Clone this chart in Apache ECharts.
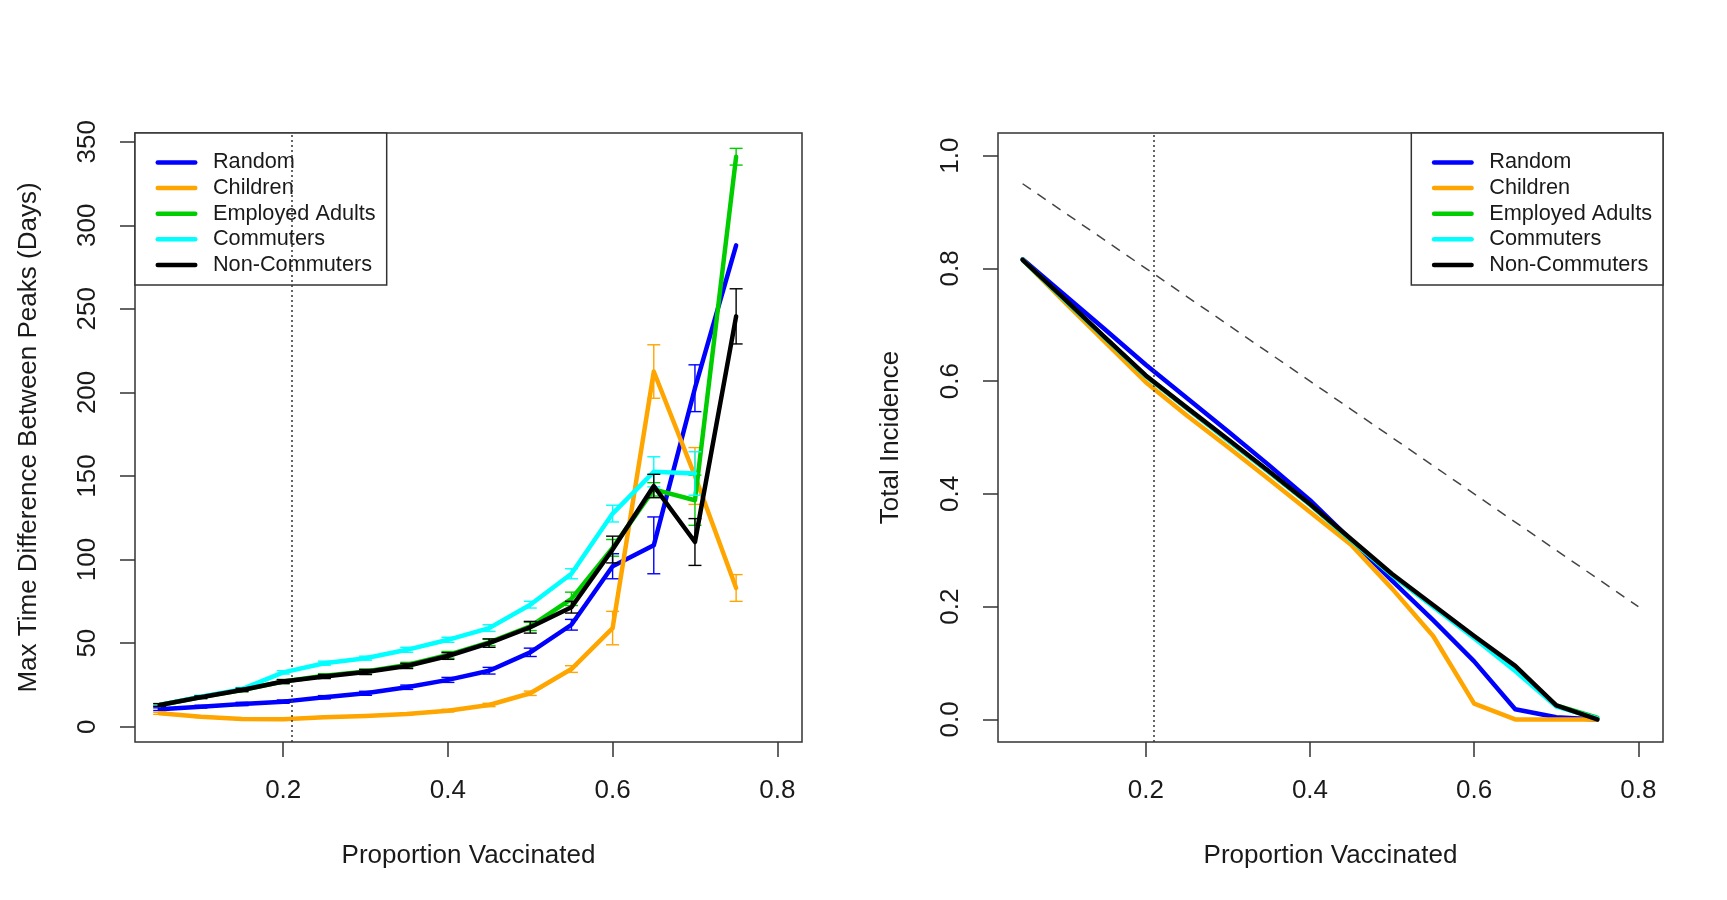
<!DOCTYPE html>
<html>
<head>
<meta charset="utf-8">
<script src="https://cdn.jsdelivr.net/npm/echarts@6/dist/echarts.min.js"></script>
<style>
  html, body { margin: 0; padding: 0; background: #ffffff; }
  #chart { width: 1727px; height: 900px; }
</style>
</head>
<body>
<div id="chart"></div>
<script>
// Vaccination coverage levels (x values shared by both panels)
const proportion = [0.05, 0.10, 0.15, 0.20, 0.25, 0.30, 0.35, 0.40, 0.45, 0.50, 0.55, 0.60, 0.65, 0.70, 0.75];

const strategyNames = ['Random', 'Children', 'Employed Adults', 'Commuters', 'Non-Commuters'];
const strategyColors = ['#0000ff', '#ffa500', '#00cd00', '#00ffff', '#000000'];

// Max time difference between peaks (days), mean per strategy
const peakRandom        = [10.5, 12, 13.6, 15, 17.6, 20, 23.6, 28, 33.5, 44.5, 61, 96, 108.5, 202.5, 288];
const peakChildren      = [8, 6, 4.6, 4.5, 5.6, 6.4, 7.6, 9.6, 13, 20, 34.5, 59, 212.5, 150, 83];
const peakEmployed      = [13, 17.8, 22, 27, 30.5, 33, 37, 43, 50.5, 60, 76.5, 107, 142, 135.5, 341];
const peakCommuters     = [13, 18, 22.5, 32.5, 38, 41, 46, 52, 59, 73, 91.5, 127.5, 152.5, 151.5, null];
const peakNonCommuters  = [13, 17.6, 22, 27, 30, 32.7, 36.3, 42.3, 50, 59.5, 71.5, 106, 144, 110.5, 245.5];

// Half-width of the error bar for each mean above
const errRandom         = [0.8, 0.8, 1, 1, 1, 1.2, 1.3, 1.5, 2, 2.5, 3.2, 7.5, 17, 14, 0];
const errChildren       = [0.6, 0.5, 0.5, 0.5, 0.5, 0.5, 0.6, 0.8, 1, 1.3, 2, 10, 16, 17, 8];
const errEmployed       = [0.8, 0.8, 1, 1.2, 1.2, 1.5, 1.5, 2, 2, 2.5, 4, 5, 4, 15, 5];
const errCommuters      = [0.8, 0.8, 1, 1, 1.2, 1.2, 1.5, 1.5, 2, 2, 3, 5, 9, 13, null];
const errNonCommuters   = [0.8, 0.8, 1, 1.2, 1.2, 1.5, 1.5, 2, 2.5, 3.5, 3.5, 8, 7, 14, 16.5];

// Total incidence per strategy
const incRandom         = [0.816, 0.754, 0.692, 0.629, 0.570, 0.511, 0.451, 0.389, 0.318, 0.246, 0.176, 0.103, 0.018, 0.004, 0.0];
const incChildren       = [0.815, 0.742, 0.670, 0.598, 0.539, 0.483, 0.426, 0.368, 0.310, 0.232, 0.148, 0.028, 0.0, 0.0, 0.0];
const incEmployed       = [0.815, 0.746, 0.677, 0.609, 0.552, 0.495, 0.439, 0.381, 0.318, 0.256, 0.201, 0.147, 0.091, 0.025, 0.003];
const incCommuters      = [0.815, 0.746, 0.677, 0.609, 0.552, 0.495, 0.439, 0.381, 0.318, 0.256, 0.200, 0.144, 0.086, 0.023, 0.002];
const incNonCommuters   = [0.815, 0.747, 0.678, 0.610, 0.553, 0.497, 0.440, 0.382, 0.320, 0.258, 0.203, 0.148, 0.095, 0.025, 0.0];

// No-herd-effect reference: incidence falls one-for-one with coverage
const referenceX = [0.05, 0.10, 0.15, 0.20, 0.25, 0.30, 0.35, 0.40, 0.45, 0.50, 0.55, 0.60, 0.65, 0.70, 0.75, 0.80];
const referenceY = [0.95, 0.90, 0.85, 0.80, 0.75, 0.70, 0.65, 0.60, 0.55, 0.50, 0.45, 0.40, 0.35, 0.30, 0.25, 0.20];

// Coverage marked with the vertical dotted line
const thresholdX = 0.2145;

// Tick labels
const xTicks = [0.2, 0.4, 0.6, 0.8];
const peakTicks = [0, 50, 100, 150, 200, 250, 300, 350];
const incidenceTicks = [0.0, 0.2, 0.4, 0.6, 0.8, 1.0];

const peakSeries = [peakRandom, peakChildren, peakEmployed, peakCommuters, peakNonCommuters];
const errSeries = [errRandom, errChildren, errEmployed, errCommuters, errNonCommuters];
const incSeries = [incRandom, incChildren, incEmployed, incCommuters, incNonCommuters];

const FONT = '"Liberation Sans", Arial, Helvetica, sans-serif';
const INK = '#1a1a1a';
const FRAME = '#333333';

function pairs(xs, ys) {
  const out = [];
  xs.forEach((x, i) => { if (ys[i] !== null && ys[i] !== undefined) out.push([x, ys[i]]); });
  return out;
}

function errorBarRender(color) {
  return function (params, api) {
    const x = api.value(0);
    const lo = api.coord([x, api.value(1)]);
    const hi = api.coord([x, api.value(2)]);
    const hw = 6.5;
    const style = { stroke: color, lineWidth: 1.4, fill: null };
    return {
      type: 'group',
      children: [
        { type: 'line', shape: { x1: lo[0], y1: lo[1], x2: hi[0], y2: hi[1] }, style: style },
        { type: 'line', shape: { x1: lo[0] - hw, y1: lo[1], x2: lo[0] + hw, y2: lo[1] }, style: style },
        { type: 'line', shape: { x1: hi[0] - hw, y1: hi[1], x2: hi[0] + hw, y2: hi[1] }, style: style }
      ]
    };
  };
}

function makeXAxis(gridIndex) {
  return {
    type: 'value', gridIndex: gridIndex, min: 0.02, max: 0.83, position: 'bottom',
    name: 'Proportion Vaccinated', nameLocation: 'middle', nameGap: 101,
    nameTextStyle: { fontFamily: FONT, fontSize: 26, color: INK },
    axisLine: { show: false, onZero: false },
    splitLine: { show: false },
    axisTick: { show: true, inside: false, length: 15, customValues: xTicks,
                lineStyle: { color: FRAME, width: 1.5 } },
    axisLabel: { show: true, customValues: xTicks, margin: 36,
                 fontFamily: FONT, fontSize: 26, color: INK,
                 formatter: v => Number(v).toFixed(1) }
  };
}

function makeYAxis(gridIndex, opts) {
  return {
    type: 'value', gridIndex: gridIndex, min: opts.min, max: opts.max, position: 'left',
    name: opts.name, nameLocation: 'middle', nameGap: opts.nameGap, nameRotate: 90,
    nameTextStyle: { fontFamily: FONT, fontSize: 26, color: INK },
    axisLine: { show: false, onZero: false },
    splitLine: { show: false },
    axisTick: { show: true, inside: false, length: 15, customValues: opts.ticks,
                lineStyle: { color: FRAME, width: 1.5 } },
    axisLabel: { show: true, customValues: opts.ticks, margin: 34, rotate: 90,
                 fontFamily: FONT, fontSize: 26, color: INK,
                 formatter: opts.formatter }
  };
}

function makeLegend(pos) {
  return Object.assign({
    data: strategyNames,
    orient: 'vertical',
    top: 133,
    padding: [18.5, 11, 9, 20.5],
    itemGap: 3.6,
    itemWidth: 37.5,
    itemHeight: 22,
    backgroundColor: '#ffffff',
    borderColor: FRAME,
    borderWidth: 1.5,
    borderRadius: 0,
    selectedMode: false,
    lineStyle: { width: 4.5, cap: 'round' },
    itemStyle: { color: 'rgba(0,0,0,0)', borderColor: 'rgba(0,0,0,0)', borderWidth: 0, opacity: 0 },
    textStyle: { fontFamily: FONT, fontSize: 21.7, color: INK, lineHeight: 22,
                 padding: [0, 0, 0, 12.7] }
  }, pos);
}

const series = [];

// Left panel: mean lines with error bars
strategyNames.forEach((name, k) => {
  const line = {
    name: name, type: 'line', xAxisIndex: 0, yAxisIndex: 0,
    data: pairs(proportion, peakSeries[k]),
    symbol: 'none', showSymbol: false, silent: true, animation: false,
    lineStyle: { color: strategyColors[k], width: 4.5, cap: 'round', join: 'round' },
    itemStyle: { color: strategyColors[k] },
    z: 2 + k * 2
  };
  if (k === 0) {
    line.markLine = {
      silent: true, symbol: 'none', animation: false,
      label: { show: false },
      lineStyle: { type: [2, 3], color: '#333', width: 1.5 },
      data: [{ xAxis: thresholdX }]
    };
  }
  series.push(line);

  const bars = [];
  proportion.forEach((x, i) => {
    const v = peakSeries[k][i], e = errSeries[k][i];
    if (v !== null && e) bars.push([x, v - e, v + e]);
  });
  series.push({
    name: name + ' error', type: 'custom', xAxisIndex: 0, yAxisIndex: 0,
    data: bars, encode: { x: 0, y: [1, 2] },
    renderItem: errorBarRender(strategyColors[k]),
    silent: true, animation: false, z: 3 + k * 2
  });
});

// Right panel: one-for-one reference line
series.push({
  name: 'reference', type: 'line', xAxisIndex: 1, yAxisIndex: 1,
  data: pairs(referenceX, referenceY),
  symbol: 'none', showSymbol: false, silent: true, animation: false,
  lineStyle: { color: '#444', width: 1.5, type: [10, 8] },
  markLine: {
    silent: true, symbol: 'none', animation: false,
    label: { show: false },
    lineStyle: { type: [2, 3], color: '#333', width: 1.5 },
    data: [{ xAxis: thresholdX }]
  },
  z: 1
});

// Right panel: total incidence per strategy
strategyNames.forEach((name, k) => {
  series.push({
    name: name, type: 'line', xAxisIndex: 1, yAxisIndex: 1,
    data: pairs(proportion, incSeries[k]),
    symbol: 'none', showSymbol: false, silent: true, animation: false,
    lineStyle: { color: strategyColors[k], width: 4.5, cap: 'round', join: 'round' },
    itemStyle: { color: strategyColors[k] },
    z: 2 + k
  });
});

const chart = echarts.init(document.getElementById('chart'), null, { renderer: 'canvas' });
chart.setOption({
  backgroundColor: '#ffffff',
  animation: false,
  grid: [
    { left: 135, top: 133, width: 667, height: 609, show: true,
      borderColor: FRAME, borderWidth: 1.5, backgroundColor: 'transparent' },
    { left: 998, top: 133, width: 665, height: 609, show: true,
      borderColor: FRAME, borderWidth: 1.5, backgroundColor: 'transparent' }
  ],
  xAxis: [makeXAxis(0), makeXAxis(1)],
  yAxis: [
    makeYAxis(0, { min: -9.15, max: 355.2, ticks: peakTicks, nameGap: 93.5,
                   name: 'Max Time Difference Between Peaks (Days)',
                   formatter: v => String(v) }),
    makeYAxis(1, { min: -0.04, max: 1.04, ticks: incidenceTicks, nameGap: 94,
                   name: 'Total Incidence',
                   formatter: v => Number(v).toFixed(1) })
  ],
  legend: [makeLegend({ left: 135 }), makeLegend({ right: 64 })],
  series: series
});
</script>
</body>
</html>
